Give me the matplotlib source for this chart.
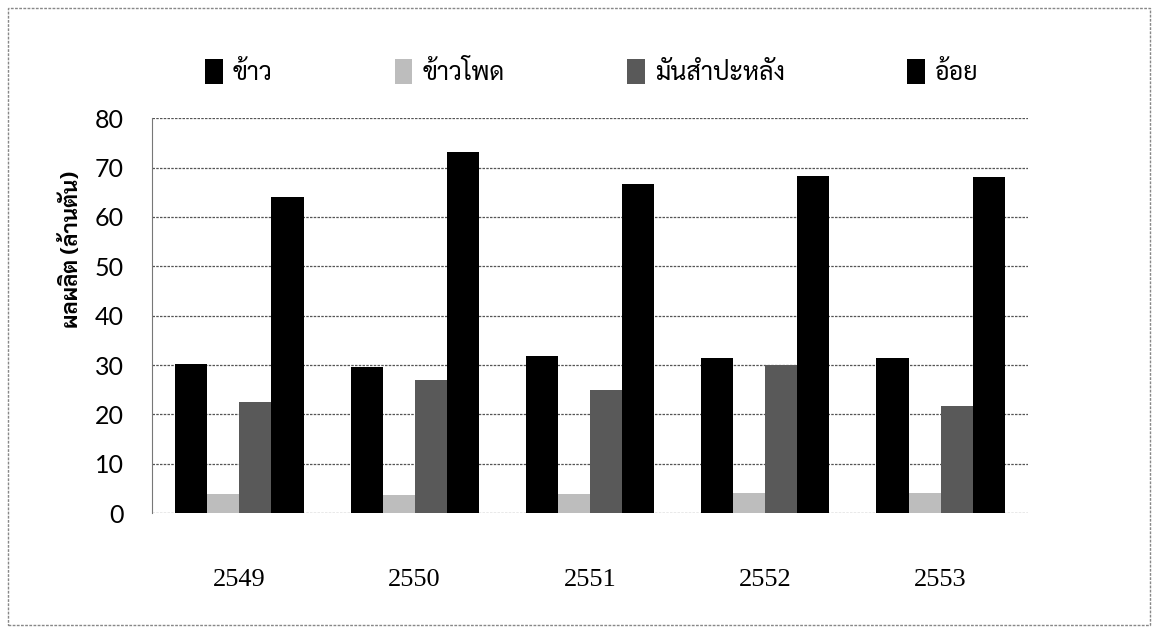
import numpy as np
import matplotlib
matplotlib.use("Agg")
import matplotlib.pyplot as plt
from matplotlib.patches import Rectangle

years = ["2549", "2550", "2551", "2552", "2553"]
crops = ["ข้าว", "ข้าวโพด", "มันสำปะหลัง", "อ้อย"]
rice = [30.3, 29.6, 31.8, 31.5, 31.5]
maize = [3.9, 3.6, 3.9, 4.1, 4.0]
cassava = [22.5, 27.0, 25.0, 30.0, 21.8]
sugarcane = [64.0, 73.2, 66.6, 68.3, 68.0]
colors = ["#000000", "#bdbdbd", "#595959", "#000000"]

THAI = ["Sarabun", "DejaVu Sans"]

fig = plt.figure(figsize=(11.58, 6.39), dpi=100)
ax = fig.add_axes([0.131, 0.197, 0.757, 0.618])

x = np.arange(len(years))
w = 0.183
for i, (vals, c, name) in enumerate(zip([rice, maize, cassava, sugarcane], colors, crops)):
    ax.bar(x + (i - 1.5) * w, vals, width=w, color=c, label=name, zorder=3)

ax.set_xlim(-0.5, len(years) - 0.5)
ax.set_ylim(0, 80)
ax.set_yticks(range(0, 81, 10))
ax.set_xticks(x)
ax.set_xticklabels(years, family="Liberation Serif", fontsize=19)
ax.tick_params(axis="y", length=0, pad=20, labelsize=18)
ax.tick_params(axis="x", length=0, pad=40)
for lab in ax.get_yticklabels():
    lab.set_family("Lato")
ax.grid(axis="y", color="#555555", lw=0.9, ls=(0, (2, 1)), zorder=0)
for s in ["top", "right", "bottom"]:
    ax.spines[s].set_visible(False)
ax.spines["left"].set_color("#777777")
ax.spines["left"].set_linestyle((0, (2, 1)))

fig.text(0.062, 0.609, "ผลผลิต (ล้านตัน)", rotation=90, ha="center", va="center",
         family=THAI, fontweight="bold", fontsize=16)

leg = fig.legend(loc="center", bbox_to_anchor=(0.511, 0.887), ncol=4, frameon=False,
                 handlelength=0.7, handleheight=1.2, handletextpad=0.4, columnspacing=4.9,
                 prop={"family": THAI, "size": 18})

# outer frame
fig.patches.append(Rectangle((0.007, 0.022), 0.986, 0.966, transform=fig.transFigure,
                             fill=False, ec="#888888", lw=1.0, ls=(0, (2, 1))))

fig.savefig("out.png", dpi=100)
